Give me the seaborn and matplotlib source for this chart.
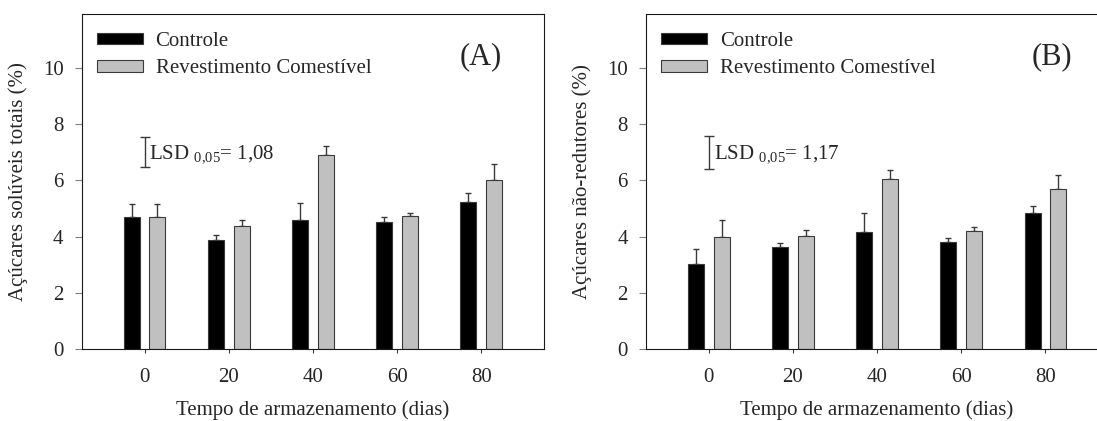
import numpy as np
import pandas as pd
import matplotlib
matplotlib.use("Agg")
import matplotlib.pyplot as plt
import seaborn as sns

# Storage time (days) and treatments
dias = ["0", "20", "40", "60", "80"]
tratamentos = ["Controle", "Revestimento Comestível"]

# (A) Total soluble sugars (%) - means and upper standard error
ast_controle = [4.71, 3.87, 4.59, 4.52, 5.23]
ast_controle_err = [0.46, 0.19, 0.59, 0.18, 0.30]
ast_revest = [4.71, 4.37, 6.90, 4.73, 6.02]
ast_revest_err = [0.46, 0.21, 0.32, 0.09, 0.55]
lsd_a = 1.08

# (B) Non-reducing sugars (%) - means and upper standard error
anr_controle = [3.02, 3.62, 4.17, 3.79, 4.83]
anr_controle_err = [0.55, 0.14, 0.65, 0.16, 0.26]
anr_revest = [4.00, 4.01, 6.05, 4.19, 5.68]
anr_revest_err = [0.57, 0.23, 0.32, 0.15, 0.52]
lsd_b = 1.17

sns.set_style("ticks")
plt.rcParams["font.family"] = ["Liberation Serif", "DejaVu Serif"]
plt.rcParams["mathtext.fontset"] = "custom"
plt.rcParams["mathtext.rm"] = "Liberation Serif"
plt.rcParams["mathtext.it"] = "Liberation Serif:italic"
plt.rcParams["mathtext.bf"] = "Liberation Serif:bold"

cores = ["#000000", "#c0c0c0"]
FS = 15


def painel(ax, ctrl, ctrl_err, rev, rev_err, lsd, ylabel, letra, letra_x):
    df = pd.DataFrame({
        "dia": dias * 2,
        "valor": list(ctrl) + list(rev),
        "tratamento": [tratamentos[0]] * len(dias) + [tratamentos[1]] * len(dias),
    })
    sns.barplot(data=df, x="dia", y="valor", hue="tratamento",
                order=dias, hue_order=tratamentos, palette=cores,
                width=0.61, gap=0.375, errorbar=None,
                edgecolor="#3a3a3a", linewidth=0.8, saturation=1, ax=ax)

    # upper-only error bars at the centre of each bar
    for cont, err in zip(ax.containers, [ctrl_err, rev_err]):
        xs = [p.get_x() + p.get_width() / 2 for p in cont.patches]
        hs = [p.get_height() for p in cont.patches]
        ax.errorbar(xs, hs, yerr=[np.zeros(len(err)), err], fmt="none",
                    ecolor="#3a3a3a", elinewidth=1.0, capsize=2.2,
                    capthick=1.0, zorder=0.9)

    # LSD reference bar
    centro = 7.0
    ax.errorbar([0], [centro], yerr=[[lsd / 2], [lsd / 2]], fmt="none",
                ecolor="#3a3a3a", elinewidth=1.0, capsize=3.5, capthick=1.0)
    lsd_txt = f"{lsd:.2f}".replace(".", ",")
    ax.annotate(r"LSD $_{\mathrm{0{,}05}}$= " + lsd_txt, xy=(0, centro),
                xytext=(3.5, -4.5), textcoords="offset points",
                va="baseline", ha="left", fontsize=FS)

    ax.set_xlim(-0.75, 4.75)
    ax.set_ylim(0, 11.9)
    ax.set_yticks([0, 2, 4, 6, 8, 10])
    ax.set_xlabel("Tempo de armazenamento (dias)", fontsize=FS)
    ax.set_ylabel(ylabel, fontsize=FS)
    ax.xaxis.set_label_coords(0.5, -0.152)
    ax.yaxis.set_label_coords(-0.116, 0.5)
    ax.tick_params(axis="y", direction="out", length=5, width=0.8,
                   color="#808080", pad=8, labelsize=FS)
    ax.tick_params(axis="x", direction="out", length=3, width=0.8,
                   color="#3a3a3a", pad=11, labelsize=FS)
    for s in ax.spines.values():
        s.set_visible(True)
        s.set_linewidth(0.8)
        s.set_color("#1a1a1a")

    handles, labels = ax.get_legend_handles_labels()
    ax.legend(handles, labels, loc="upper left", bbox_to_anchor=(0.034, 0.948),
              frameon=False, fontsize=FS, borderpad=0, borderaxespad=0,
              handlelength=2.2, handleheight=0.45, handletextpad=0.6,
              labelspacing=0.42)
    ax.text(letra_x, 0.872, letra, transform=ax.transAxes, fontsize=22,
            ha="center", va="center")


fig = plt.figure(figsize=(10.97, 4.21), dpi=100)
ax_a = fig.add_axes([0.0743, 0.1710, 0.4219, 0.7950])
ax_b = fig.add_axes([0.5886, 0.1710, 0.4219, 0.7950])

painel(ax_a, ast_controle, ast_controle_err, ast_revest, ast_revest_err,
       lsd_a, "Açúcares solúveis totais (%)", "(A)", 0.863)
painel(ax_b, anr_controle, anr_controle_err, anr_revest, anr_revest_err,
       lsd_b, "Açúcares não-redutores (%)", "(B)", 0.877)

fig.savefig("out.png", dpi=100)
